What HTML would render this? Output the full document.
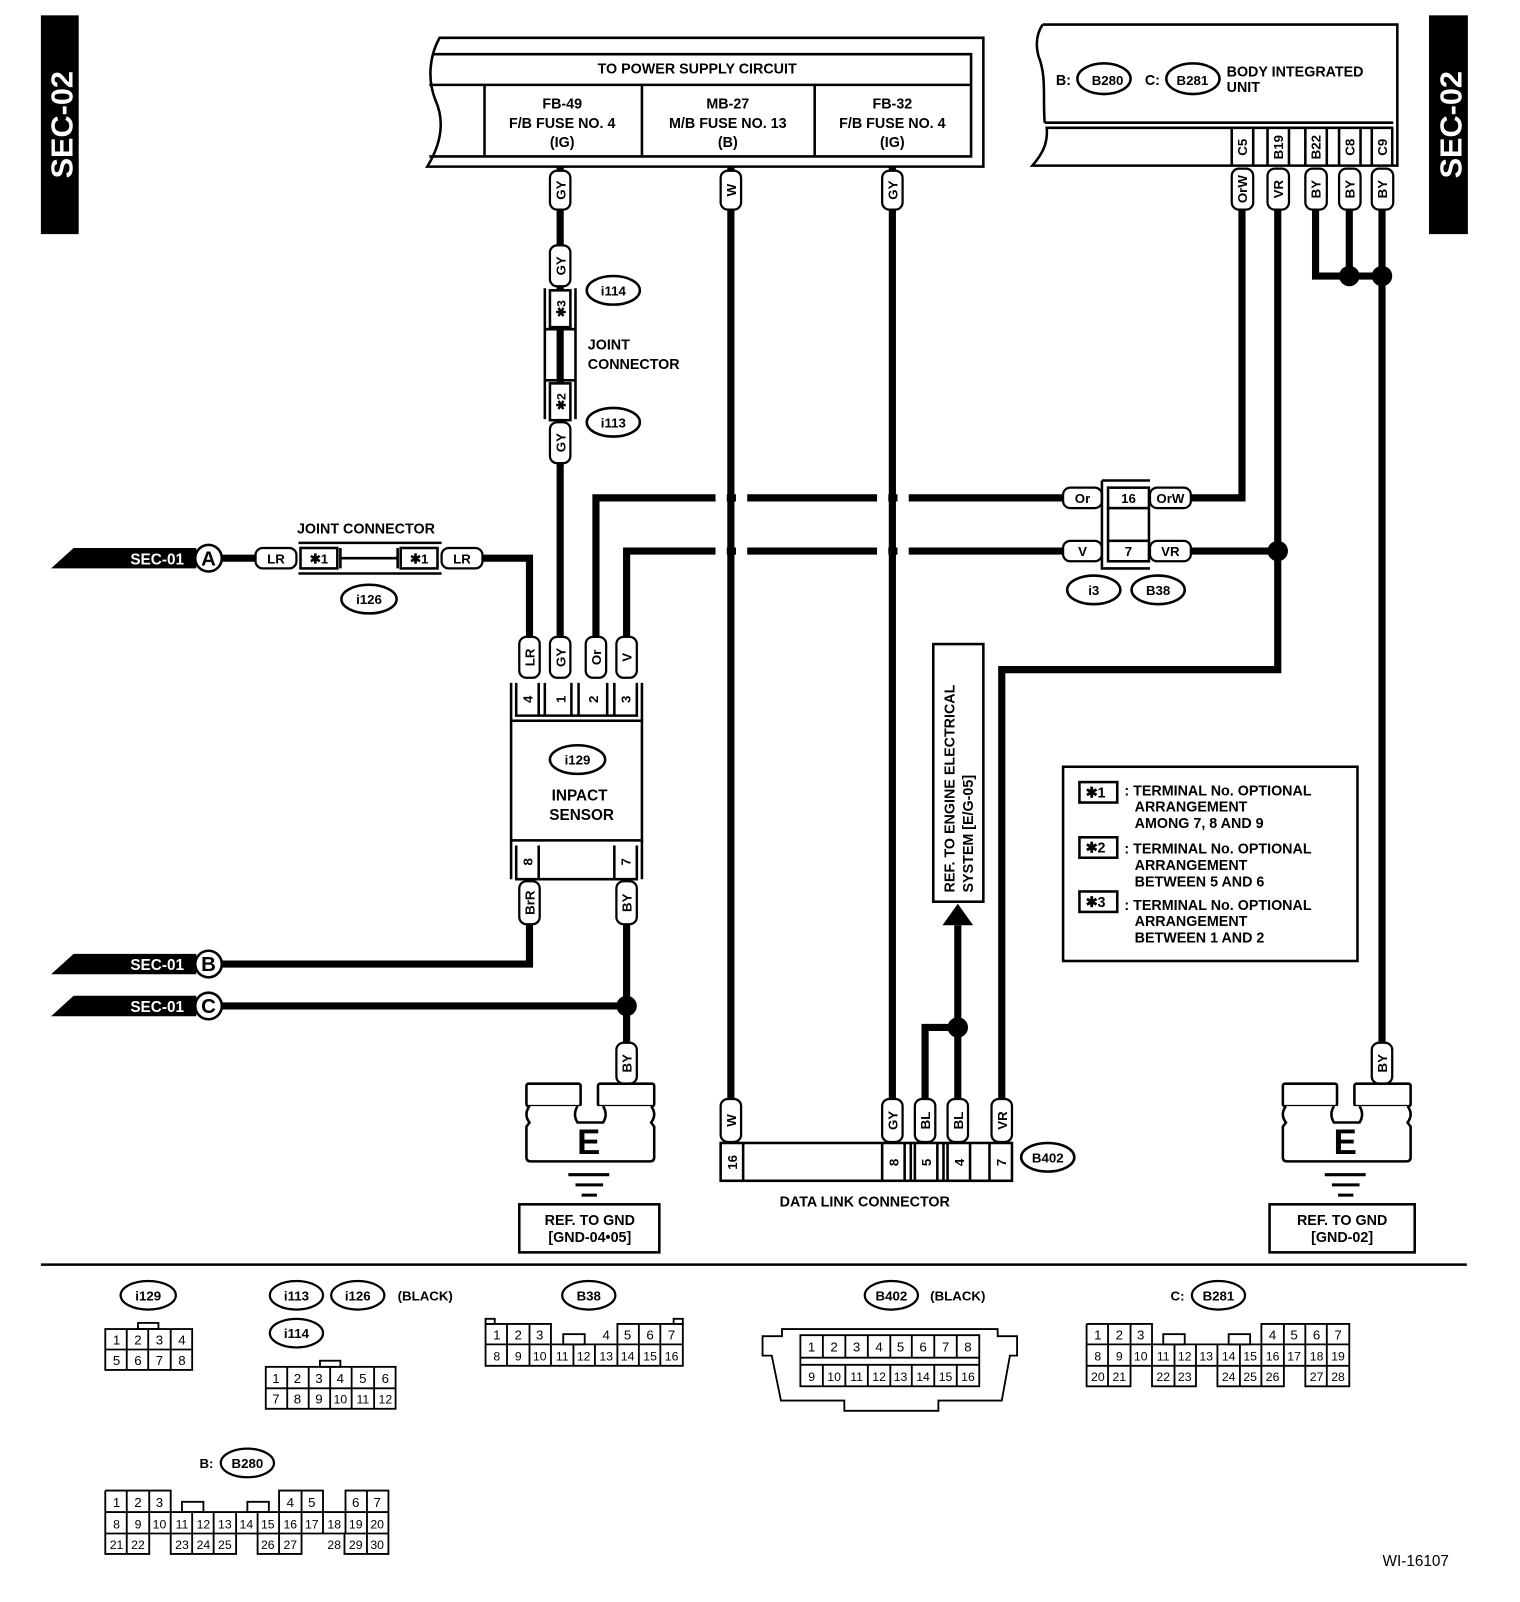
<!DOCTYPE html>
<html><head><meta charset="utf-8"><style>
html,body{margin:0;padding:0;background:#fff;}
svg{display:block;}
text{font-family:"Liberation Sans",Arial,sans-serif;fill:#000;}
.b{font-weight:bold;}
</style></head><body>
<svg width="1520" height="1602" viewBox="0 0 1487 1567" preserveAspectRatio="none" xmlns="http://www.w3.org/2000/svg">
<rect width="1487" height="1567" fill="#fff"/>

<!-- SEC-02 bars -->
<rect x="40" y="15" width="37" height="214" fill="#000"/>
<text class="b" transform="translate(71,122) rotate(-90)" text-anchor="middle" font-size="30" style="fill:#fff">SEC-02</text>
<rect x="1398" y="15" width="38" height="214" fill="#000"/>
<text class="b" transform="translate(1430,122) rotate(-90)" text-anchor="middle" font-size="30" style="fill:#fff">SEC-02</text>

<!-- Power supply box -->
<g fill="none" stroke="#000" stroke-width="2.5">
<path d="M430,37 L962,37 L962,163 L418,163 C432,140 435,118 426,98 C418,78 420,55 430,37 Z" fill="#fff"/>
<path d="M424,53 L950,53 L950,153 L420,153"/>
<path d="M420,83 L950,83"/>
<path d="M474,83 V153 M628,83 V153 M797,83 V153"/>
</g>
<g class="b" font-size="14" text-anchor="middle">
<text x="682" y="72">TO POWER SUPPLY CIRCUIT</text>
<text x="550" y="106">FB-49</text><text x="550" y="125">F/B FUSE NO. 4</text><text x="550" y="144">(IG)</text>
<text x="712" y="106">MB-27</text><text x="712" y="125">M/B FUSE NO. 13</text><text x="712" y="144">(B)</text>
<text x="873" y="106">FB-32</text><text x="873" y="125">F/B FUSE NO. 4</text><text x="873" y="144">(IG)</text>
</g>

<!-- Body integrated unit -->
<g fill="none" stroke="#000" stroke-width="2.5">
<path d="M1020,24 L1367,24 L1367,162 L1010,162 C1022,148 1025,138 1024,125 L1363,125 M1022,120 L1363,120 M1022,120 C1020,95 1024,75 1016,55 C1012,40 1016,30 1020,24"/>
<path d="M1205,125 V162 M1226,125 V162 M1240,125 V162 M1261,125 V162 M1277,125 V162 M1298,125 V162 M1310,125 V162 M1331,125 V162 M1342,125 V162 M1362,125 V162"/>
<ellipse cx="1080" cy="77" rx="26" ry="15"/>
<ellipse cx="1167" cy="77" rx="26" ry="15"/>
</g>
<g class="b" font-size="14">
<text x="1033" y="83">B:</text><text x="1068" y="83" font-size="13">B280</text>
<text x="1120" y="83">C:</text><text x="1151" y="83" font-size="13">B281</text>
<text x="1200" y="75">BODY INTEGRATED</text><text x="1200" y="90">UNIT</text>
</g>
<g class="b" font-size="13" text-anchor="middle">
<text transform="translate(1220,144) rotate(-90)">C5</text>
<text transform="translate(1255,144) rotate(-90)">B19</text>
<text transform="translate(1292,144) rotate(-90)">B22</text>
<text transform="translate(1325,144) rotate(-90)">C8</text>
<text transform="translate(1357,144) rotate(-90)">C9</text>
</g>

<!-- WIRES -->
<g fill="none" stroke="#000" stroke-width="7" stroke-linejoin="miter">
<path d="M548,163 V626"/>
<path d="M715,163 V1075"/>
<path d="M873,163 V1075"/>
<path d="M1215,200 V487 H1165"/>
<path d="M1250,200 V655 H980 V1075"/>
<path d="M1165,539 H1250"/>
<path d="M1287,200 V270 H1352"/>
<path d="M1320,200 V270"/>
<path d="M1352,200 V1025"/>
<path d="M583,626 V487 H1040"/>
<path d="M613,626 V539 H1040"/>
<path d="M216,546 H250 M473,546 H518 V626"/>
<path d="M518,900 V943 H216"/>
<path d="M613,900 V1025 M216,984 H613"/>
<path d="M905,1075 V1005 H937 M937,1075 V905"/>
</g>
<!-- crossing gaps -->
<g fill="#fff">
<rect x="700" y="480" width="11" height="14"/><rect x="720" y="480" width="11" height="14"/>
<rect x="700" y="532" width="11" height="14"/><rect x="720" y="532" width="11" height="14"/>
<rect x="858" y="480" width="11" height="14"/><rect x="878" y="480" width="11" height="14"/>
<rect x="858" y="532" width="11" height="14"/><rect x="878" y="532" width="11" height="14"/>
</g>
<g fill="#000">
<circle cx="1320" cy="270" r="10"/><circle cx="1352" cy="270" r="10"/>
<circle cx="1250" cy="539" r="10"/>
<circle cx="613" cy="984" r="10"/>
<circle cx="937" cy="1005" r="10"/>
<path d="M922,905 L937,884 L952,905 Z"/>
</g>

<!-- vertical pill labels -->
<g fill="#fff" stroke="#000" stroke-width="2.2">
<rect x="538" y="167" width="20" height="38" rx="7"/>
<rect x="705" y="167" width="20" height="38" rx="7"/>
<rect x="863" y="167" width="20" height="38" rx="7"/>
<rect x="1205" y="165" width="21" height="40" rx="7"/>
<rect x="1240" y="165" width="21" height="40" rx="7"/>
<rect x="1277" y="165" width="21" height="40" rx="7"/>
<rect x="1310" y="165" width="21" height="40" rx="7"/>
<rect x="1342" y="165" width="21" height="40" rx="7"/>
<rect x="538" y="240" width="20" height="40" rx="7"/>
<rect x="538" y="413" width="20" height="40" rx="7"/>
<rect x="508" y="623" width="20" height="40" rx="7"/>
<rect x="538" y="623" width="20" height="40" rx="7"/>
<rect x="573" y="623" width="20" height="40" rx="7"/>
<rect x="603" y="623" width="20" height="40" rx="7"/>
<rect x="508" y="862" width="20" height="42" rx="7"/>
<rect x="603" y="862" width="20" height="42" rx="7"/>
<rect x="603" y="1020" width="20" height="40" rx="7"/>
<rect x="1342" y="1020" width="20" height="40" rx="7"/>
<rect x="705" y="1075" width="20" height="42" rx="7"/>
<rect x="863" y="1075" width="20" height="42" rx="7"/>
<rect x="895" y="1075" width="20" height="42" rx="7"/>
<rect x="927" y="1075" width="20" height="42" rx="7"/>
<rect x="970" y="1075" width="20" height="42" rx="7"/>
<rect x="1040" y="477" width="38" height="20" rx="7"/>
<rect x="1040" y="529" width="38" height="20" rx="7"/>
<rect x="1125" y="477" width="40" height="20" rx="7"/>
<rect x="1125" y="529" width="40" height="20" rx="7"/>
<rect x="250" y="536" width="40" height="20" rx="7"/>
<rect x="432" y="536" width="40" height="20" rx="7"/>
</g>
<g class="b" font-size="13" text-anchor="middle">
<text transform="translate(553,186) rotate(-90)">GY</text>
<text transform="translate(720,186) rotate(-90)">W</text>
<text transform="translate(878,186) rotate(-90)">GY</text>
<text transform="translate(1220,185) rotate(-90)">OrW</text>
<text transform="translate(1255,185) rotate(-90)">VR</text>
<text transform="translate(1292,185) rotate(-90)">BY</text>
<text transform="translate(1325,185) rotate(-90)">BY</text>
<text transform="translate(1357,185) rotate(-90)">BY</text>
<text transform="translate(553,260) rotate(-90)">GY</text>
<text transform="translate(553,433) rotate(-90)">GY</text>
<text transform="translate(523,643) rotate(-90)">LR</text>
<text transform="translate(553,643) rotate(-90)">GY</text>
<text transform="translate(588,643) rotate(-90)">Or</text>
<text transform="translate(618,643) rotate(-90)">V</text>
<text transform="translate(523,883) rotate(-90)">BrR</text>
<text transform="translate(618,883) rotate(-90)">BY</text>
<text transform="translate(618,1040) rotate(-90)">BY</text>
<text transform="translate(1357,1040) rotate(-90)">BY</text>
<text transform="translate(720,1096) rotate(-90)">W</text>
<text transform="translate(878,1096) rotate(-90)">GY</text>
<text transform="translate(910,1096) rotate(-90)">BL</text>
<text transform="translate(942,1096) rotate(-90)">BL</text>
<text transform="translate(985,1096) rotate(-90)">VR</text>
<text x="1059" y="492">Or</text>
<text x="1059" y="544">V</text>
<text x="1145" y="492">OrW</text>
<text x="1145" y="544">VR</text>
<text x="270" y="551">LR</text>
<text x="452" y="551">LR</text>
</g>

<!-- i114/i113 joint connector -->
<g fill="none" stroke="#000" stroke-width="2.5">
<path d="M533,282 V410 M563,282 V410"/>
<rect x="538" y="284" width="20" height="36" fill="#fff"/>
<rect x="538" y="375" width="20" height="36" fill="#fff"/>
<path d="M533,322 H563 M533,372 H563 M548,322 V372"/>
<ellipse cx="600" cy="284" rx="26" ry="14"/>
<ellipse cx="600" cy="413" rx="26" ry="14"/>
</g>
<g class="b" font-size="12" text-anchor="middle">
<text transform="translate(553,302) rotate(-90)">✱3</text>
<text transform="translate(553,393) rotate(-90)">✱2</text>
</g>
<g class="b" font-size="13" text-anchor="middle">
<text x="600" y="289">i114</text><text x="600" y="418">i113</text>
</g>
<text class="b" x="575" y="342" font-size="14">JOINT</text>
<text class="b" x="575" y="361" font-size="14">CONNECTOR</text>

<!-- i126 -->
<g fill="none" stroke="#000" stroke-width="2.5">
<path d="M292,531 H432 M292,561 H432"/>
<rect x="294" y="536" width="36" height="20" fill="#fff"/>
<rect x="392" y="536" width="36" height="20" fill="#fff"/>
<path d="M333,536 V556 M389,536 V556 M333,546 H389"/>
<ellipse cx="361" cy="586" rx="27" ry="14"/>
</g>
<g class="b" font-size="13" text-anchor="middle">
<text x="312" y="551">✱1</text><text x="410" y="551">✱1</text>
<text x="361" y="591">i126</text>
<text x="358" y="522" font-size="14">JOINT CONNECTOR</text>
</g>

<!-- SEC-01 flags -->
<g>
<path d="M72,536 H192 V556 H50 Z" fill="#000"/>
<path d="M72,933 H192 V953 H50 Z" fill="#000"/>
<path d="M72,974 H192 V994 H50 Z" fill="#000"/>
<g class="b" font-size="15" text-anchor="end">
<text x="180" y="552" style="fill:#fff">SEC-01</text>
<text x="180" y="949" style="fill:#fff">SEC-01</text>
<text x="180" y="990" style="fill:#fff">SEC-01</text>
</g>
<g fill="#fff" stroke="#000" stroke-width="2.5">
<circle cx="204" cy="546" r="13"/><circle cx="204" cy="943" r="13"/><circle cx="204" cy="984" r="13"/>
</g>
<g class="b" font-size="20" text-anchor="middle">
<text x="204" y="553">A</text><text x="204" y="950">B</text><text x="204" y="991">C</text>
</g>
</g>

<!-- Impact sensor -->
<g fill="none" stroke="#000" stroke-width="2.5">
<path d="M500,668 V705 M628,668 V705 M500,822 V860 M628,822 V860"/>
<rect x="500" y="705" width="128" height="117" fill="#fff"/>
<path d="M505,668 V700 H623 V668 M505,827 V860 H623 V827"/>
<path d="M527,668 V700 M533,668 V700 M559,668 V700 M566,668 V700 M594,668 V700 M601,668 V700"/>
<path d="M527,827 V860 M601,827 V860"/>
<ellipse cx="565" cy="743" rx="27" ry="14"/>
</g>
<g class="b" font-size="13" text-anchor="middle">
<text transform="translate(521,684) rotate(-90)">4</text>
<text transform="translate(553,684) rotate(-90)">1</text>
<text transform="translate(585,684) rotate(-90)">2</text>
<text transform="translate(617,684) rotate(-90)">3</text>
<text transform="translate(521,843) rotate(-90)">8</text>
<text transform="translate(617,843) rotate(-90)">7</text>
<text x="565" y="748">i129</text>
<text x="567" y="783" font-size="15">INPACT</text>
<text x="569" y="802" font-size="15">SENSOR</text>
</g>

<!-- i3/B38 -->
<g fill="none" stroke="#000" stroke-width="2.5">
<path d="M1078,470 H1125 M1078,470 V556 H1125"/>
<rect x="1084" y="477" width="40" height="20"/>
<rect x="1084" y="529" width="40" height="20"/>
<path d="M1084,497 V529 M1124,497 V529"/>
<ellipse cx="1070" cy="577" rx="26" ry="14"/>
<ellipse cx="1133" cy="577" rx="26" ry="14"/>
</g>
<g class="b" font-size="13" text-anchor="middle">
<text x="1104" y="492">16</text><text x="1104" y="544">7</text>
<text x="1070" y="582">i3</text><text x="1133" y="582">B38</text>
</g>

<!-- REF engine box -->
<rect x="913" y="630" width="49" height="252" fill="#fff" stroke="#000" stroke-width="2.5"/>
<g class="b" font-size="14">
<text transform="translate(934,873) rotate(-90)">REF. TO ENGINE ELECTRICAL</text>
<text transform="translate(952,873) rotate(-90)">SYSTEM [E/G-05]</text>
</g>

<!-- Legend -->
<rect x="1040" y="750" width="288" height="190" fill="none" stroke="#000" stroke-width="2.5"/>
<g fill="none" stroke="#000" stroke-width="2.5">
<rect x="1056" y="765" width="37" height="20"/><rect x="1056" y="819" width="37" height="20"/><rect x="1056" y="872" width="37" height="20"/>
</g>
<g class="b" font-size="14">
<text x="1062" y="780">✱1</text><text x="1062" y="834">✱2</text><text x="1062" y="887">✱3</text>
<text x="1100" y="778">: TERMINAL No. OPTIONAL</text><text x="1110" y="794">ARRANGEMENT</text><text x="1110" y="810">AMONG 7, 8 AND 9</text>
<text x="1100" y="835">: TERMINAL No. OPTIONAL</text><text x="1110" y="851">ARRANGEMENT</text><text x="1110" y="867">BETWEEN 5 AND 6</text>
<text x="1100" y="890">: TERMINAL No. OPTIONAL</text><text x="1110" y="906">ARRANGEMENT</text><text x="1110" y="922">BETWEEN 1 AND 2</text>
</g>

<!-- Data link connector -->
<g fill="none" stroke="#000" stroke-width="2.5">
<rect x="705" y="1118" width="285" height="37"/>
<path d="M727,1118 V1155 M863,1118 V1155 M885,1118 V1155 M891,1118 V1155 M895,1118 V1155 M917,1118 V1155 M923,1118 V1155 M927,1118 V1155 M949,1118 V1155 M968,1118 V1155"/>
<ellipse cx="1025" cy="1132" rx="26" ry="14"/>
</g>
<g class="b" font-size="13" text-anchor="middle">
<text transform="translate(721,1137) rotate(-90)">16</text>
<text transform="translate(879,1137) rotate(-90)">8</text>
<text transform="translate(911,1137) rotate(-90)">5</text>
<text transform="translate(943,1137) rotate(-90)">4</text>
<text transform="translate(984,1137) rotate(-90)">7</text>
<text x="1025" y="1137">B402</text>
<text x="846" y="1180" font-size="14">DATA LINK CONNECTOR</text>
</g>

<!-- Ground symbols -->
<g fill="#fff" stroke="#000" stroke-width="2.5">
<rect x="515" y="1060" width="53" height="22" rx="2"/>
<rect x="585" y="1060" width="55" height="22" rx="2"/>
<path d="M518,1082 Q512,1090 518,1098 L515,1102 V1132 Q515,1136 519,1136 H636 Q640,1136 640,1132 V1102 L637,1098 Q643,1090 637,1082 M565,1082 Q560,1090 565,1098 H590 Q595,1090 590,1082"/>
</g>
<path d="M556,1149 H596 M563,1159 H590 M569,1169 H584" stroke="#000" stroke-width="3"/>
<text class="b" x="576" y="1129" font-size="34" text-anchor="middle">E</text>
<rect x="508" y="1178" width="137" height="47" fill="none" stroke="#000" stroke-width="2.5"/>
<text class="b" x="577" y="1198" font-size="14" text-anchor="middle">REF. TO GND</text>
<text class="b" x="577" y="1215" font-size="14" text-anchor="middle">[GND-04•05]</text>

<g fill="#fff" stroke="#000" stroke-width="2.5">
<rect x="1255" y="1060" width="53" height="22" rx="2"/>
<rect x="1325" y="1060" width="55" height="22" rx="2"/>
<path d="M1258,1082 Q1252,1090 1258,1098 L1255,1102 V1132 Q1255,1136 1259,1136 H1376 Q1380,1136 1380,1132 V1102 L1377,1098 Q1383,1090 1377,1082 M1305,1082 Q1300,1090 1305,1098 H1330 Q1335,1090 1330,1082"/>
</g>
<path d="M1296,1149 H1336 M1303,1159 H1330 M1309,1169 H1324" stroke="#000" stroke-width="3"/>
<text class="b" x="1316" y="1129" font-size="34" text-anchor="middle">E</text>
<rect x="1242" y="1178" width="142" height="47" fill="none" stroke="#000" stroke-width="2.5"/>
<text class="b" x="1313" y="1198" font-size="14" text-anchor="middle">REF. TO GND</text>
<text class="b" x="1313" y="1215" font-size="14" text-anchor="middle">[GND-02]</text>

<!-- separator -->
<path d="M40,1237 H1435" stroke="#000" stroke-width="2.5"/>

<!-- bottom connectors -->
<g fill="none" stroke="#000" stroke-width="2.2">
<ellipse cx="145" cy="1267" rx="27" ry="14"/>
<ellipse cx="290" cy="1267" rx="26" ry="14"/><ellipse cx="350" cy="1267" rx="26" ry="14"/>
<ellipse cx="290" cy="1304" rx="26" ry="14"/>
<ellipse cx="576" cy="1267" rx="26" ry="14"/>
<ellipse cx="872" cy="1267" rx="26" ry="14"/>
<ellipse cx="1192" cy="1267" rx="26" ry="14"/>
<ellipse cx="242" cy="1431" rx="26" ry="14"/>
</g>
<g class="b" font-size="13" text-anchor="middle">
<text x="145" y="1272">i129</text><text x="290" y="1272">i113</text><text x="350" y="1272">i126</text>
<text x="416" y="1272">(BLACK)</text>
<text x="290" y="1309">i114</text><text x="576" y="1272">B38</text>
<text x="872" y="1272">B402</text><text x="937" y="1272">(BLACK)</text>
<text x="1152" y="1272">C:</text><text x="1192" y="1272">B281</text>
<text x="202" y="1436">B:</text><text x="242" y="1436">B280</text>
</g>

<g fill="none" stroke="#000" stroke-width="1.8">
<!-- i129 -->
<rect x="103" y="1300" width="85" height="40"/><path d="M103,1320 H188 M124,1300 V1340 M145,1300 V1340 M167,1300 V1340"/>
<rect x="135" y="1294" width="20" height="6"/>
<!-- i113 -->
<rect x="260" y="1337" width="127" height="41"/><path d="M260,1358 H387 M281,1337 V1378 M302,1337 V1378 M323,1337 V1378 M344,1337 V1378 M366,1337 V1378"/>
<rect x="313" y="1331" width="20" height="6"/>
<!-- B38 -->
<path d="M475,1295 H539 V1315 M604,1315 V1295 H668 V1336 H475 V1295 M475,1315 H668"/>
<path d="M496,1295 V1336 M518,1295 V1336 M561,1315 V1336 M582,1315 V1336 M625,1295 V1336 M646,1295 V1336 M539,1315 V1336 M604,1315 V1336"/>
<rect x="551" y="1305" width="21" height="10"/>
<rect x="475" y="1290" width="9" height="5"/><rect x="659" y="1290" width="9" height="5"/>
<!-- B402 -->
<path d="M765,1300 H976 V1307 H995 V1326 H988 L980,1370 H918 V1380 H826 V1370 H764 L755,1326 H746 V1307 H765 Z"/>
<rect x="783" y="1306" width="175" height="50"/>
<path d="M783,1328 H958 M783,1335 H958"/>
<path d="M805,1306 V1328 M827,1306 V1328 M849,1306 V1328 M871,1306 V1328 M892,1306 V1328 M914,1306 V1328 M936,1306 V1328"/>
<path d="M805,1335 V1356 M827,1335 V1356 M849,1335 V1356 M871,1335 V1356 M892,1335 V1356 M914,1335 V1356 M936,1335 V1356"/>
<!-- B281 -->
<path d="M1063,1295 H1127 V1315 M1234,1315 V1295 H1320 V1356 H1277 V1336 M1063,1295 V1356 H1106 V1336 M1063,1315 H1320 M1063,1336 H1320"/>
<path d="M1127,1336 V1356 H1170 V1336 M1191,1336 V1356 H1256 V1336"/>
<path d="M1084,1295 V1356 M1106,1295 V1336 M1127,1315 V1336 M1149,1315 V1356 M1170,1315 V1336 M1191,1315 V1336 M1213,1315 V1356 M1234,1315 V1356 M1256,1295 V1336 M1277,1295 V1336 M1298,1295 V1356"/>
<rect x="1138" y="1305" width="21" height="10"/><rect x="1202" y="1305" width="21" height="10"/>
<!-- B280 -->
<path d="M103,1458 H167 V1479 M273,1479 V1458 H316 V1479 M338,1479 V1458 H380 V1520 H337 V1500 M103,1458 V1520 H146 V1500 M103,1479 H380 M103,1500 H380"/>
<path d="M167,1500 V1520 H231 V1500 M252,1500 V1520 H295 V1500"/>
<path d="M124,1458 V1520 M146,1458 V1500 M167,1479 V1500 M188,1479 V1520 M209,1479 V1520 M231,1479 V1500 M252,1479 V1500 M273,1479 V1520 M295,1458 V1500 M316,1479 V1500 M338,1479 V1500 M359,1458 V1520"/>
<rect x="178" y="1469" width="21" height="10"/><rect x="242" y="1469" width="21" height="10"/>
</g>

<g font-size="13" text-anchor="middle">
<text x="114" y="1315">1</text><text x="135" y="1315">2</text><text x="156" y="1315">3</text><text x="178" y="1315">4</text>
<text x="114" y="1335">5</text><text x="135" y="1335">6</text><text x="156" y="1335">7</text><text x="178" y="1335">8</text>
<text x="270" y="1353">1</text><text x="291" y="1353">2</text><text x="312" y="1353">3</text><text x="333" y="1353">4</text><text x="355" y="1353">5</text><text x="377" y="1353">6</text>
<text x="270" y="1373">7</text><text x="291" y="1373">8</text><text x="312" y="1373">9</text><text x="333" y="1373" font-size="12">10</text><text x="355" y="1373" font-size="12">11</text><text x="377" y="1373" font-size="12">12</text>
<text x="486" y="1310">1</text><text x="507" y="1310">2</text><text x="528" y="1310">3</text><text x="593" y="1310">4</text><text x="614" y="1310">5</text><text x="636" y="1310">6</text><text x="657" y="1310">7</text>
<g font-size="12"><text x="486" y="1331">8</text><text x="507" y="1331">9</text><text x="528" y="1331">10</text><text x="550" y="1331">11</text><text x="571" y="1331">12</text><text x="593" y="1331">13</text><text x="614" y="1331">14</text><text x="636" y="1331">15</text><text x="657" y="1331">16</text></g>
<text x="794" y="1322">1</text><text x="816" y="1322">2</text><text x="838" y="1322">3</text><text x="860" y="1322">4</text><text x="881" y="1322">5</text><text x="903" y="1322">6</text><text x="925" y="1322">7</text><text x="947" y="1322">8</text>
<g font-size="12"><text x="794" y="1351">9</text><text x="816" y="1351">10</text><text x="838" y="1351">11</text><text x="860" y="1351">12</text><text x="881" y="1351">13</text><text x="903" y="1351">14</text><text x="925" y="1351">15</text><text x="947" y="1351">16</text></g>
<text x="1074" y="1310">1</text><text x="1095" y="1310">2</text><text x="1116" y="1310">3</text><text x="1245" y="1310">4</text><text x="1266" y="1310">5</text><text x="1288" y="1310">6</text><text x="1309" y="1310">7</text>
<g font-size="12"><text x="1074" y="1331">8</text><text x="1095" y="1331">9</text><text x="1116" y="1331">10</text><text x="1138" y="1331">11</text><text x="1159" y="1331">12</text><text x="1180" y="1331">13</text><text x="1202" y="1331">14</text><text x="1223" y="1331">15</text><text x="1245" y="1331">16</text><text x="1266" y="1331">17</text><text x="1288" y="1331">18</text><text x="1309" y="1331">19</text>
<text x="1074" y="1351">20</text><text x="1095" y="1351">21</text><text x="1138" y="1351">22</text><text x="1159" y="1351">23</text><text x="1202" y="1351">24</text><text x="1223" y="1351">25</text><text x="1245" y="1351">26</text><text x="1288" y="1351">27</text><text x="1309" y="1351">28</text></g>
<text x="114" y="1474">1</text><text x="135" y="1474">2</text><text x="156" y="1474">3</text><text x="284" y="1474">4</text><text x="305" y="1474">5</text><text x="348" y="1474">6</text><text x="369" y="1474">7</text>
<g font-size="12"><text x="114" y="1495">8</text><text x="135" y="1495">9</text><text x="156" y="1495">10</text><text x="178" y="1495">11</text><text x="199" y="1495">12</text><text x="220" y="1495">13</text><text x="241" y="1495">14</text><text x="262" y="1495">15</text><text x="284" y="1495">16</text><text x="305" y="1495">17</text><text x="327" y="1495">18</text><text x="348" y="1495">19</text><text x="369" y="1495">20</text>
<text x="114" y="1515">21</text><text x="135" y="1515">22</text><text x="178" y="1515">23</text><text x="199" y="1515">24</text><text x="220" y="1515">25</text><text x="262" y="1515">26</text><text x="284" y="1515">27</text><text x="327" y="1515">28</text><text x="348" y="1515">29</text><text x="369" y="1515">30</text></g>
</g>

<text x="1385" y="1532" font-size="15" text-anchor="middle">WI-16107</text>
</svg>
</body></html>
